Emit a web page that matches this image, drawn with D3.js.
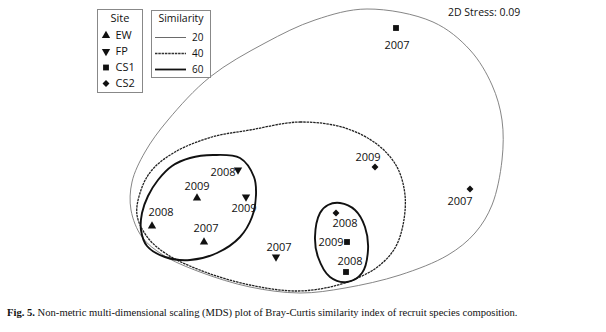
<!DOCTYPE html>
<html>
<head>
<meta charset="utf-8">
<script src="https://cdn.jsdelivr.net/npm/d3@7"></script>
<style>
  body { margin: 0; background: #fff; }
  text { font-family: "Open Sans", sans-serif; fill: #111; }
</style>
</head>
<body>
<script>
const width = 606;
const height = 332;

// MDS points
const sites = ['EW', 'FP', 'CS1', 'CS2'];
const pointSite = ['EW', 'EW', 'EW', 'FP', 'FP', 'FP', 'CS1', 'CS1', 'CS1', 'CS2', 'CS2', 'CS2'];
const pointYear = ['2008', '2009', '2007', '2008', '2009', '2007', '2007', '2009', '2008', '2009', '2008', '2007'];
const pointX = [-1.48, -1.03, -0.96, -0.62, -0.54, -0.24, 0.96, 0.47, 0.46, 0.75, 0.36, 1.70];
const pointY = [-0.76, -0.48, -0.92, -0.20, -0.47, -1.07, 1.22, -0.92, -1.22, -0.17, -0.63, -0.39];
// where each year label sits relative to its point (px)
const labelOffset = [[9, -14], [0, -12], [2, -14], [-15, 2], [-2, 11], [3, -10],
                     [1, 17], [-16, 0], [4, -11], [-7, -10], [9, 10], [-10, 12]];

// similarity contours (MDS space)
const levels = ['20', '40', '60'];
const contour20 = [[0.67,1.41],[1.33,1.28],[1.70,1.00],[1.92,0.65],[2.02,0.30],[2.02,-0.10],[1.92,-0.55],
  [1.75,-0.83],[1.48,-1.05],[1.00,-1.25],[0.45,-1.38],[0.00,-1.43],[-0.50,-1.37],[-1.00,-1.22],
  [-1.37,-1.05],[-1.58,-0.87],[-1.69,-0.60],[-1.68,-0.32],[-1.55,-0.02],[-1.32,0.30],[-0.90,0.73],
  [-0.35,1.07],[0.15,1.30]];
const contour40 = [[-0.50,0.20],[0.00,0.28],[0.45,0.22],[0.78,0.05],[0.97,-0.17],[1.05,-0.45],[1.03,-0.75],
  [0.95,-0.98],[0.80,-1.15],[0.60,-1.27],[0.30,-1.37],[-0.05,-1.41],[-0.50,-1.35],[-0.95,-1.22],
  [-1.32,-1.05],[-1.52,-0.88],[-1.63,-0.65],[-1.59,-0.40],[-1.48,-0.20],[-1.25,-0.02],[-0.88,0.13]];
const contour60a = [[-0.87,-0.05],[-0.60,-0.08],[-0.46,-0.27],[-0.44,-0.45],[-0.48,-0.67],[-0.60,-0.87],
  [-0.83,-1.03],[-1.10,-1.10],[-1.35,-1.07],[-1.53,-0.96],[-1.59,-0.80],[-1.58,-0.63],[-1.52,-0.46],
  [-1.42,-0.30],[-1.28,-0.16],[-1.10,-0.08]];
const contour60b = [[0.40,-0.53],[0.55,-0.60],[0.65,-0.77],[0.68,-1.00],[0.62,-1.23],[0.47,-1.32],
  [0.30,-1.27],[0.18,-1.07],[0.15,-0.87],[0.20,-0.63],[0.28,-0.55]];

const stressLabel = '2D Stress: 0.09';

const x = d3.scaleLinear().domain([-3, 3]).range([0, 600]);
const y = d3.scaleLinear().domain([-1.5, 1.5]).range([300, 0]);

const symbolFor = {
  EW: {type: d3.symbolTriangle, rot: 0, size: 30},
  FP: {type: d3.symbolTriangle, rot: 180, size: 30},
  CS1: {type: d3.symbolSquare, rot: 0, size: 34},
  CS2: {type: d3.symbolSquare, rot: 45, size: 24}
};

const svg = d3.select('body').append('svg')
  .attr('width', width)
  .attr('height', height);

const line = d3.line()
  .x(d => x(d[0]))
  .y(d => y(d[1]))
  .curve(d3.curveCatmullRomClosed.alpha(0.5));

// contours
const gContours = svg.append('g').attr('class', 'contours');

gContours.append('path')
  .attr('d', line(contour20))
  .attr('fill', 'none')
  .attr('stroke', '#777')
  .attr('stroke-width', 0.9);

gContours.append('path')
  .attr('d', line(contour40))
  .attr('fill', 'none')
  .attr('stroke', '#222')
  .attr('stroke-width', 1.3)
  .attr('stroke-dasharray', '2.5,0.8');

[contour60a, contour60b].forEach(c => {
  gContours.append('path')
    .attr('d', line(c))
    .attr('fill', 'none')
    .attr('stroke', '#111')
    .attr('stroke-width', 1.9);
});

// points
const points = pointX.map((v, i) => ({
  site: pointSite[i], year: pointYear[i], x: v, y: pointY[i], off: labelOffset[i]
}));

const gPoints = svg.append('g').attr('class', 'points');

gPoints.selectAll('path.pt')
  .data(points)
  .enter()
  .append('path')
  .attr('class', 'pt')
  .attr('d', d => d3.symbol().type(symbolFor[d.site].type).size(symbolFor[d.site].size)())
  .attr('transform', d => `translate(${x(d.x)},${y(d.y)}) rotate(${symbolFor[d.site].rot})`)
  .attr('fill', '#111');

gPoints.selectAll('text.lbl')
  .data(points)
  .enter()
  .append('text')
  .attr('class', 'lbl')
  .attr('x', d => x(d.x) + d.off[0])
  .attr('y', d => y(d.y) + d.off[1])
  .attr('dy', '0.36em')
  .attr('text-anchor', 'middle')
  .style('font-size', '11px')
  .text(d => d.year);

// site legend
const gSite = svg.append('g').attr('transform', 'translate(97.5,9.5)');
gSite.append('rect')
  .attr('width', 45).attr('height', 83)
  .attr('fill', '#fff').attr('stroke', '#888');
gSite.append('text')
  .attr('x', 22.5).attr('y', 12)
  .attr('text-anchor', 'middle')
  .style('font-size', '11px')
  .text('Site');
sites.forEach((s, i) => {
  const row = gSite.append('g').attr('transform', `translate(0,${25 + i * 16})`);
  row.append('path')
    .attr('d', d3.symbol().type(symbolFor[s].type).size(symbolFor[s].size)())
    .attr('transform', `translate(8.5,1) rotate(${symbolFor[s].rot})`)
    .attr('fill', '#111');
  row.append('text')
    .attr('x', 18).attr('y', 4)
    .style('font-size', '11px')
    .text(s);
});

// similarity legend
const gSim = svg.append('g').attr('transform', 'translate(151.5,10.5)');
gSim.append('rect')
  .attr('width', 59).attr('height', 67)
  .attr('fill', '#fff').attr('stroke', '#888');
gSim.append('text')
  .attr('x', 29.5).attr('y', 11)
  .attr('text-anchor', 'middle')
  .style('font-size', '10.5px')
  .text('Similarity');
levels.forEach((lv, i) => {
  const yy = 27 + i * 16;
  const ln = gSim.append('line').attr('x1', 3.5).attr('x2', 34.5).attr('y1', yy).attr('y2', yy);
  if (lv === '20') {
    ln.attr('stroke', '#444').attr('stroke-width', 0.8);
  } else if (lv === '40') {
    ln.attr('stroke', '#333').attr('stroke-width', 1.3).attr('stroke-dasharray', '2.5,0.8');
  } else {
    ln.attr('stroke', '#111').attr('stroke-width', 1.8);
  }
  gSim.append('text')
    .attr('x', 52).attr('y', yy + 3.5)
    .attr('text-anchor', 'end')
    .style('font-size', '10px')
    .text(lv);
});

svg.append('text')
  .attr('x', 448).attr('y', 15.5)
  .style('font-size', '10.5px')
  .text(stressLabel);

// caption
const cap = svg.append('text')
  .attr('x', 7).attr('y', 316)
  .style('font-family', '"Liberation Serif", "Times New Roman", serif')
  .style('font-size', '10.6px');
cap.append('tspan').style('font-weight', 'bold').text('Fig. 5.');
cap.append('tspan').text(' Non-metric multi-dimensional scaling (MDS) plot of Bray-Curtis similarity index of recruit species composition.');
</script>
</body>
</html>
